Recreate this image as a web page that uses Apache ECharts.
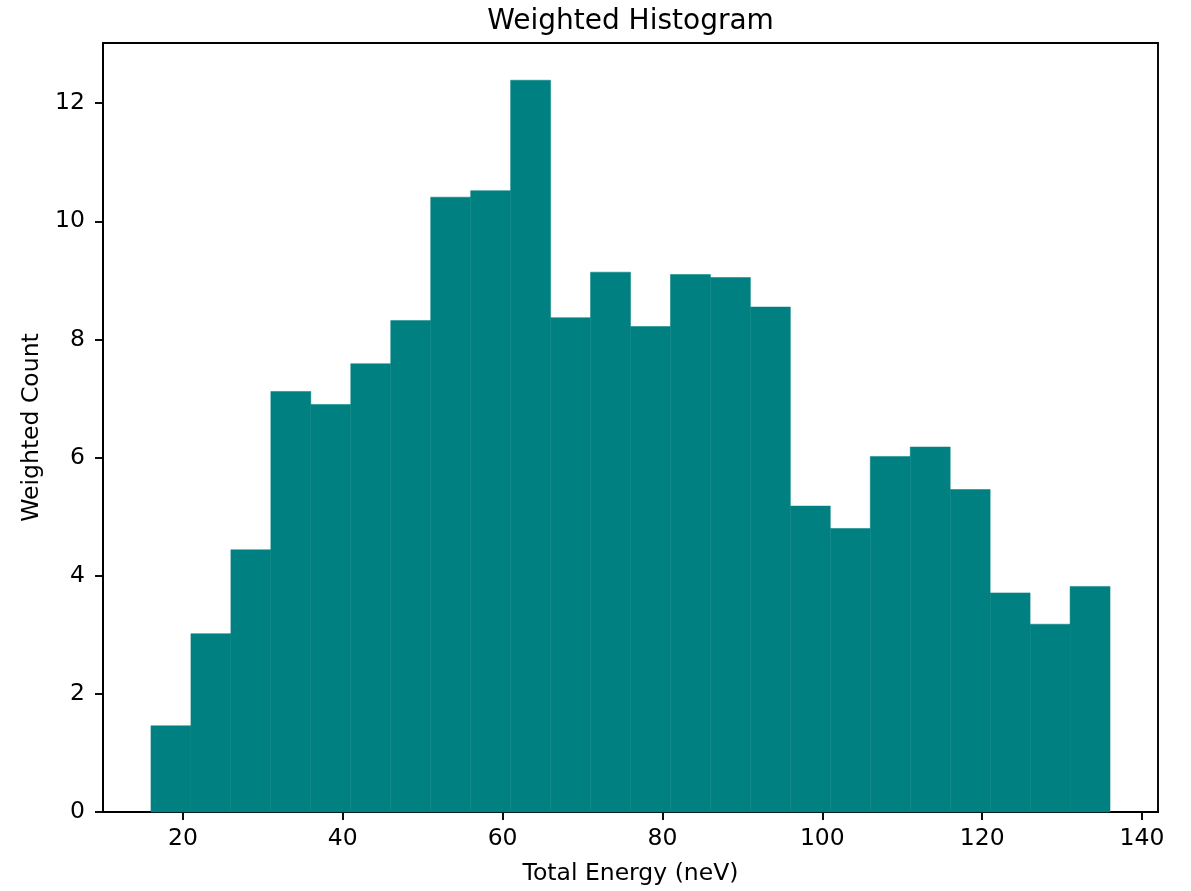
<!DOCTYPE html>
<html>
<head>
<meta charset="utf-8">
<script src="https://cdn.jsdelivr.net/npm/echarts@6/dist/echarts.min.js"></script>
<style>html,body{margin:0;padding:0;background:#fff;}#chart{width:1191px;height:891px;}</style>
</head>
<body>
<div id="chart"></div>
<script>
const binStart = [16,21,26,31,36,41,46,51,56,61,66,71,76,81,86,91,96,101,106,111,116,121,126,131];
const binWidth = 5;
const weightedCounts = [1.46,3.02,4.44,7.12,6.90,7.59,8.32,10.41,10.52,12.39,8.37,9.14,8.22,9.10,9.05,8.55,5.18,4.80,6.02,6.18,5.46,3.71,3.18,3.82];
const xTicks = [20,40,60,80,100,120,140];
const yTicks = [0,2,4,6,8,10,12];
const titleText = 'Weighted Histogram';
const xLabel = 'Total Energy (neV)';
const yLabel = 'Weighted Count';

const data = binStart.map((s, i) => [s, s + binWidth, weightedCounts[i]]);
const font = 'DejaVu Sans';
const chart = echarts.init(document.getElementById('chart'), null, {renderer: 'canvas'});
chart.setOption({
  backgroundColor: '#fff',
  animation: false,
  title: {
    text: titleText, left: 630.5, top: 8, textAlign: 'center', padding: 0,
    textStyle: {fontFamily: font, fontSize: 28, fontWeight: 'normal', color: '#000'}
  },
  grid: {left: 103, right: 33, top: 43, bottom: 77, show: true, borderColor: '#000', borderWidth: 1.9, backgroundColor: 'transparent'},
  xAxis: {
    type: 'value', min: 10, max: 142,
    name: xLabel, nameLocation: 'middle', nameGap: 50,
    nameTextStyle: {fontFamily: font, fontSize: 23.5, color: '#000'},
    splitLine: {show: false},
    axisLine: {show: true, onZero: false, lineStyle: {color: '#000', width: 1.9}},
    axisTick: {show: true, length: 8, customValues: xTicks, lineStyle: {color: '#000', width: 1.9}},
    axisLabel: {customValues: xTicks, margin: 15, fontFamily: font, fontSize: 23.5, color: '#000'}
  },
  yAxis: {
    type: 'value', min: 0, max: 13.02,
    name: yLabel, nameLocation: 'middle', nameGap: 57, nameRotate: 90,
    nameTextStyle: {fontFamily: font, fontSize: 23.5, color: '#000'},
    splitLine: {show: false},
    axisLine: {show: true, lineStyle: {color: '#000', width: 1.9}},
    axisTick: {show: true, length: 8, customValues: yTicks, lineStyle: {color: '#000', width: 1.9}},
    axisLabel: {customValues: yTicks, margin: 18, fontFamily: font, fontSize: 23.5, color: '#000'}
  },
  series: [{
    type: 'custom',
    data: data,
    encode: {x: [0, 1], y: 2},
    renderItem: function (params, api) {
      const p0 = api.coord([api.value(0), 0]);
      const p1 = api.coord([api.value(1), api.value(2)]);
      return {
        type: 'rect',
        shape: {x: p0[0], y: p1[1], width: p1[0] - p0[0], height: p0[1] - p1[1]},
        style: {fill: '#008080', stroke: '#008080', lineWidth: 0.5}
      };
    }
  }]
});
</script>
</body>
</html>
